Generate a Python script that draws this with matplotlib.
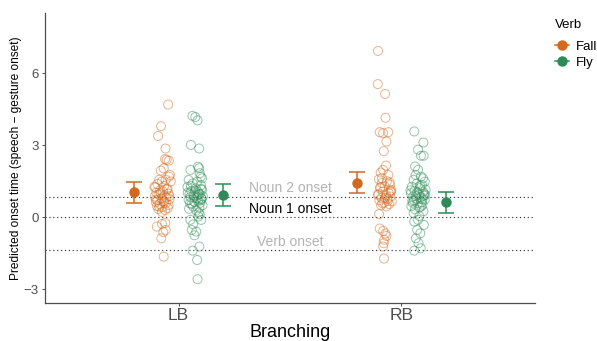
import numpy as np
import matplotlib
matplotlib.use('Agg')
import matplotlib.pyplot as plt
from matplotlib.lines import Line2D

plt.rcParams['font.family'] = ['Liberation Sans', 'DejaVu Sans']

branching = ['LB', 'RB']
verbs = ['Fall', 'Fly']
colours = {'Fall': '#D2691E', 'Fly': '#2E8B57'}

# model estimates (mean and interval) per branching
fall_mean = [1.03, 1.44]
fall_lo = [0.58, 1.00]
fall_hi = [1.47, 1.89]
fly_mean = [0.94, 0.62]
fly_lo = [0.48, 0.18]
fly_hi = [1.37, 1.07]

# reference onsets
onset_names = ['Noun 2 onset', 'Noun 1 onset', 'Verb onset']
onset_vals = [0.86, 0.0, -1.36]
onset_cols = ['#B3B3B3', 'black', '#B3B3B3']

# raw points
lb_fall = [4.69, 3.79, 3.38, 2.86, 2.42, 2.35, 2.39, 1.94, 2.03, 1.69,
           1.76, 1.56, 1.49, 1.56, 1.49, 1.38, 1.30, 1.24, 1.18, 1.12,
           1.07, 1.02, 0.98, 0.94, 0.90, 0.86, 0.82, 0.79, 0.75, 0.71,
           0.67, 0.63, 0.59, 0.55, 0.51, 0.47, 0.42, 0.38, 0.34, 0.30,
           1.27, 1.15, 1.00, 0.88, 0.73, 0.61, 0.44, 0.22, -0.24, -0.39,
           -0.28, -0.53, -0.62, -0.88, -1.64]
lb_fall_jit = [0.028, -0.004, -0.017, 0.016, 0.014, 0.031, 0.021, -0.005, 0.008, 0.032,
               0.036, -0.012, 0.000, 0.017, 0.040, -0.020, 0.010, -0.030, 0.025, -0.008,
               0.005, -0.025, 0.030, -0.015, 0.012, -0.032, 0.020, -0.002, 0.034, -0.020,
               0.008, -0.028, 0.018, -0.010, 0.030, -0.022, 0.002, 0.026, -0.016, 0.014,
               -0.034, 0.022, -0.006, 0.033, -0.026, 0.010, -0.012, 0.000, 0.015, -0.023,
               0.000, 0.017, 0.006, -0.003, 0.008]

lb_fly = [4.22, 4.17, 4.03, 3.01, 2.86, 1.97, 2.04, 1.83, 1.69, 2.10,
          1.55, 1.48, 1.40, 1.33, 1.26, 1.20, 1.14, 1.09, 1.04, 0.99,
          0.95, 0.91, 0.87, 0.84, 0.80, 0.76, 0.72, 0.68, 0.64, 0.60,
          0.55, 0.50, 0.45, 0.40, 0.35, 0.28, 0.20, 1.30, 1.18, 1.02,
          0.93, 0.85, 0.70, 0.58, 0.12, 0.03, -0.11, -0.11, -0.30, -0.53,
          -0.60, -0.75, -1.22, -1.39, -1.78, -2.58, 1.62, 1.10, 0.97, 0.78]
lb_fly_jit = [-0.013, 0.000, 0.010, -0.020, 0.017, -0.022, 0.017, 0.020, 0.024, 0.012,
              -0.030, 0.008, -0.012, 0.025, -0.035, 0.002, 0.030, -0.018, 0.014, -0.026,
              0.020, -0.008, 0.034, -0.022, 0.006, 0.028, -0.030, 0.012, -0.004, 0.022,
              -0.016, 0.032, -0.010, 0.018, -0.028, 0.004, 0.015, -0.020, 0.026, -0.034,
              0.010, -0.006, 0.024, -0.024, 0.020, 0.014, -0.022, 0.026, -0.010, -0.016,
              0.004, -0.004, 0.018, -0.012, 0.008, 0.010, 0.030, -0.002, 0.016, 0.028]

rb_fall = [6.92, 5.54, 5.13, 4.14, 3.54, 3.50, 3.54, 3.15, 2.75, 2.15,
           1.97, 1.86, 1.76, 1.58, 1.50, 1.42, 1.35, 1.28, 1.20, 1.13,
           1.07, 1.01, 0.96, 0.91, 0.86, 0.81, 0.76, 0.71, 0.66, 0.61,
           0.55, 0.50, 0.45, 1.45, 1.25, 1.05, 0.93, 0.80, 0.68, 0.58,
           0.13, -0.47, -0.57, -0.68, -0.78, -0.94, -1.08, -1.22, -1.72, 1.62,
           1.10]
rb_fall_jit = [-0.030, -0.031, 0.002, 0.004, -0.022, -0.007, 0.016, 0.008, -0.004, 0.006,
               -0.007, -0.018, 0.016, -0.026, 0.010, -0.012, 0.024, 0.000, -0.020, 0.030,
               -0.008, 0.018, -0.028, 0.006, 0.026, -0.014, 0.012, -0.024, 0.032, -0.002,
               0.020, -0.016, 0.008, 0.022, -0.020, 0.028, -0.030, 0.002, 0.014, -0.010,
               -0.025, -0.022, -0.007, 0.003, 0.008, -0.002, -0.004, -0.007, -0.003, -0.012,
               0.026]

rb_fly = [3.57, 3.11, 2.81, 2.56, 2.56, 2.11, 1.97, 1.76, 1.69, 1.56,
          1.48, 1.40, 1.34, 1.27, 1.21, 1.15, 1.10, 1.05, 1.00, 0.95,
          0.90, 0.86, 0.82, 0.78, 0.73, 0.68, 0.63, 0.58, 0.52, 0.46,
          0.40, 0.33, 0.25, 0.17, 1.30, 1.12, 0.98, 0.88, 0.75, 0.60,
          0.45, -0.18, -0.11, -0.32, -0.53, -0.67, -0.88, -1.08, -1.39, -1.29,
          1.62, 1.02, 0.92, 0.70, 0.05]
rb_fly_jit = [-0.017, 0.024, 0.000, 0.013, 0.025, -0.013, 0.000, -0.011, 0.013, -0.020,
              0.030, -0.006, 0.018, -0.028, 0.008, 0.034, -0.016, 0.022, -0.032, 0.004,
              0.026, -0.022, 0.012, -0.008, 0.030, -0.026, 0.016, -0.002, 0.020, -0.030,
              0.006, -0.014, 0.024, -0.020, 0.010, -0.034, 0.028, -0.010, 0.018, -0.024,
              0.014, -0.017, 0.000, 0.026, -0.004, 0.010, -0.010, 0.002, -0.017, 0.012,
              0.022, -0.004, 0.032, -0.018, 0.006]

raw = {('LB', 'Fall'): (lb_fall, lb_fall_jit), ('LB', 'Fly'): (lb_fly, lb_fly_jit),
       ('RB', 'Fall'): (rb_fall, rb_fall_jit), ('RB', 'Fly'): (rb_fly, rb_fly_jit)}

fig = plt.figure(figsize=(5.97, 3.41), dpi=100)
ax = fig.add_axes([45/597, 38/341, 490/597, 290/341])

grey = '#4D4D4D'
xpos = np.arange(1, len(branching) + 1)

# onset reference lines
for name, v, c in zip(onset_names, onset_vals, onset_cols):
    ax.axhline(v, color='#222222', lw=0.8, ls=(0, (1, 2.5)), zorder=1)
    ax.annotate(name, (1.5, v), xytext=(0, 1.0), textcoords='offset points',
                ha='center', va='bottom', fontsize=10, color=c, zorder=2)

# jittered raw data
for i, b in enumerate(branching):
    for v, off in zip(verbs, [-0.075, 0.075]):
        ys, jit = raw[(b, v)]
        xs = xpos[i] + off + np.array(jit)
        ax.scatter(xs, ys, s=42, facecolors='none', edgecolors=colours[v],
                   linewidths=0.7, alpha=0.5, zorder=3)

# means with intervals
for v, m, lo, hi, off in [('Fall', fall_mean, fall_lo, fall_hi, -0.2),
                          ('Fly', fly_mean, fly_lo, fly_hi, 0.2)]:
    m = np.array(m)
    err = [m - np.array(lo), np.array(hi) - m]
    ax.errorbar(xpos + off, m, yerr=err, fmt='o', color=colours[v], ms=6.5,
                elinewidth=1.1, capsize=5.5, capthick=1.1, zorder=4)

ax.set_xlim(0.4, 2.6)
ax.set_ylim(-3.57, 8.5)
ax.set_xticks(xpos)
ax.set_xticklabels(branching)
ax.set_yticks([-3, 0, 3, 6])

for s in ['top', 'right']:
    ax.spines[s].set_visible(False)
for s in ['left', 'bottom']:
    ax.spines[s].set_color(grey)
    ax.spines[s].set_linewidth(0.9)
ax.tick_params(axis='y', colors=grey, labelsize=9.5, length=2.5, width=0.7, pad=2)
ax.tick_params(axis='x', colors=grey, labelsize=12.5, length=2.5, width=0.7, pad=1)

ax.set_xlabel('Branching', fontsize=13, labelpad=1)
ax.set_ylabel('Predicted onset time (speech \u2212 gesture onset)', fontsize=8.6, labelpad=1)

handles = [Line2D([0], [0], color=colours[v], marker='o', ms=6.5, lw=1.1) for v in verbs]
leg = fig.legend(handles, verbs, title='Verb', loc='upper left',
                 bbox_to_anchor=(548/597, 1 - 12/341), frameon=False,
                 fontsize=9.5, title_fontsize=9.5, handlelength=1.1,
                 handletextpad=0.5, labelspacing=0.3, borderpad=0)
leg._legend_box.align = 'left'
leg._legend_box.sep = 7

fig.savefig('out.png', dpi=100)
